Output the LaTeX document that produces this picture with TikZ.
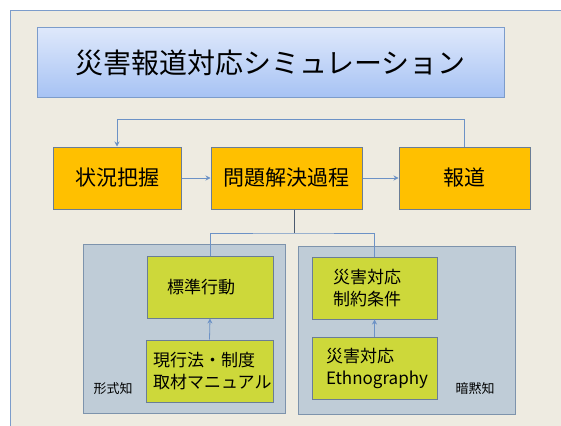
\documentclass[tikz,border=0pt]{standalone}
\usepackage{fontspec}
\newfontfamily\jp{Noto Sans CJK JP}
\usetikzlibrary{arrows.meta}
\definecolor{bgbeige}{HTML}{EEEBE1}
\definecolor{frameblue}{HTML}{7C9CCB}
\definecolor{titletop}{HTML}{DEE8FB}
\definecolor{titlebot}{HTML}{A6C2F4}
\definecolor{orangebox}{HTML}{FFC000}
\definecolor{boxborder}{HTML}{6A7D96}
\definecolor{greenbox}{HTML}{CDD83A}
\definecolor{panelgray}{HTML}{BFCCD7}
\definecolor{panelborder}{HTML}{7D93AC}
\definecolor{linkblue}{HTML}{6C92C6}
\definecolor{darkline}{HTML}{4A5A70}
\tikzset{
  mainbox/.style={draw=boxborder, line width=1pt, fill=orangebox, minimum height=62pt, inner sep=0pt, font=\jp\fontsize{21}{25}\selectfont},
  subbox/.style={draw=boxborder, line width=1pt, fill=greenbox, minimum height=62pt, inner ysep=0pt, align=left, font=\jp\fontsize{17}{22}\selectfont},
  panel/.style={draw=panelborder, line width=0.8pt, fill=panelgray, inner sep=0pt},
  conn/.style={draw=linkblue, line width=0.8pt},
  arr/.style={conn, -{Stealth[length=5pt,width=5pt]}},
  paneltext/.style={font=\jp\fontsize{13}{15}\selectfont, inner sep=0pt}
}
\begin{document}
\begin{tikzpicture}[x=1pt,y=-1pt]
\useasboundingbox (0,0) rectangle (561,425);
\fill[white] (0,0) rectangle (561,425);
\begin{scope}
\clip (0,0) rectangle (561,425);
\draw[draw=frameblue, fill=bgbeige, line width=1pt] (10,11) rectangle (580,440);
\end{scope}
% title
\node[draw=frameblue, line width=1pt, top color=titletop, bottom color=titlebot,
      minimum width=467pt, minimum height=70pt, inner sep=0pt,
      font=\jp\fontsize{28}{32}\selectfont] (title) at (270.5,63) {災害報道対応シミュレーション};
% main row
\node[mainbox, minimum width=128pt] (kj) at (117,178) {状況把握};
\node[mainbox, minimum width=151pt] (mon) at (286.5,178) {問題解決過程};
\node[mainbox, minimum width=131pt] (hou) at (464.5,178) {報道};
% panels
\node[panel, minimum width=202pt, minimum height=169pt] (lpanel) at (184,328.5) {};
\node[panel, minimum width=217pt, minimum height=168pt] (rpanel) at (406.5,330) {};
% sub boxes
\node[subbox, text width=86pt, inner xsep=20pt] (hyojun) at (210,287) {標準行動};
\node[subbox, text width=113pt, inner xsep=7pt] (genko) at (209.5,371) {現行法・制度\\取材マニュアル};
\node[subbox, text width=83pt, inner xsep=21pt] (seiyaku) at (374.5,288) {災害対応\\制約条件};
\node[subbox, text width=97pt, inner xsep=14pt] (ethno) at (374.5,368) {災害対応\\Ethnography};
% panel labels
\node[paneltext] (keishiki) at (113,389) {形式知};
\node[paneltext] (anmoku) at (475,389) {暗黙知};
% connectors
\coordinate (junc) at (294.5,233);
\draw[arr] (kj.east) -- (mon.west);
\draw[arr] (mon.east) -- (hou.west);
\draw[arr] (hou.north) -- ++(0,-27) -| (kj.north);
\draw[draw=darkline, line width=1.4pt] (mon.south -| junc) -- (junc);
\draw[conn] (hyojun.north) |- (junc) -| (seiyaku.north);
\draw[arr] (genko.north) -- (hyojun.south);
\draw[arr] (ethno.north) -- (seiyaku.south);
\end{tikzpicture}
\end{document}
